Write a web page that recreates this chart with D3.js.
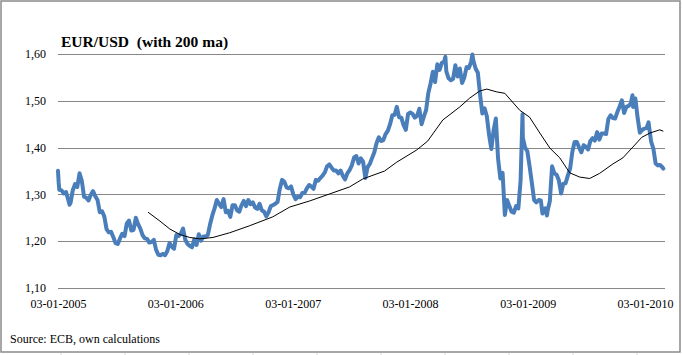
<!DOCTYPE html>
<html>
<head>
<meta charset="utf-8">
<script src="https://cdn.jsdelivr.net/npm/d3@7"></script>
<style>
  html, body { margin: 0; padding: 0; background: #fff; }
  svg { display: block; }
</style>
</head>
<body>
<svg id="chart" width="682" height="355"></svg>
<script>
// ---- DATA ----
const titleText = "EUR/USD  (with 200 ma)";
const sourceText = "Source: ECB, own calculations";

const yTicks = [1.10, 1.20, 1.30, 1.40, 1.50, 1.60];
const xTickDates = ["2005-01-03", "2006-01-03", "2007-01-03", "2008-01-03", "2009-01-03", "2010-01-03"];
const xTickLabels = ["03-01-2005", "03-01-2006", "03-01-2007", "03-01-2008", "03-01-2009", "03-01-2010"];

// EUR/USD rate
const rateDates = [
"2005-01-03","2005-01-05","2005-01-07","2005-01-14","2005-01-21","2005-01-28","2005-02-04","2005-02-08","2005-02-11","2005-02-18",
"2005-02-25","2005-03-04","2005-03-11","2005-03-18","2005-03-25","2005-04-01","2005-04-08","2005-04-15","2005-04-22","2005-04-29",
"2005-05-06","2005-05-13","2005-05-20","2005-05-27","2005-06-03","2005-06-10","2005-06-17","2005-06-24","2005-07-01","2005-07-08",
"2005-07-15","2005-07-22","2005-07-29","2005-08-05","2005-08-12","2005-08-19","2005-08-26","2005-09-02","2005-09-09","2005-09-16",
"2005-09-23","2005-09-30","2005-10-07","2005-10-14","2005-10-21","2005-10-28","2005-11-04","2005-11-11","2005-11-18","2005-11-25",
"2005-12-02","2005-12-09","2005-12-16","2005-12-23","2005-12-30",
"2006-01-06","2006-01-13","2006-01-20","2006-01-27","2006-02-03","2006-02-10","2006-02-17","2006-02-24","2006-03-03","2006-03-10",
"2006-03-17","2006-03-24","2006-03-31","2006-04-07","2006-04-14","2006-04-21","2006-04-28","2006-05-05","2006-05-12","2006-05-19",
"2006-05-26","2006-06-02","2006-06-09","2006-06-16","2006-06-23","2006-06-30","2006-07-07","2006-07-14","2006-07-21","2006-07-28",
"2006-08-04","2006-08-11","2006-08-18","2006-08-25","2006-09-01","2006-09-08","2006-09-15","2006-09-22","2006-09-29","2006-10-06",
"2006-10-13","2006-10-20","2006-10-27","2006-11-03","2006-11-10","2006-11-17","2006-11-24","2006-12-01","2006-12-08","2006-12-15",
"2006-12-22","2006-12-29",
"2007-01-05","2007-01-12","2007-01-19","2007-01-26","2007-02-02","2007-02-09","2007-02-16","2007-02-23","2007-03-02","2007-03-09",
"2007-03-16","2007-03-23","2007-03-30","2007-04-06","2007-04-13","2007-04-20","2007-04-27","2007-05-04","2007-05-11","2007-05-18",
"2007-05-25","2007-06-01","2007-06-08","2007-06-15","2007-06-22","2007-06-29","2007-07-06","2007-07-13","2007-07-20","2007-07-27",
"2007-08-03","2007-08-10","2007-08-17","2007-08-24","2007-08-31","2007-09-07","2007-09-14","2007-09-21","2007-09-28","2007-10-05",
"2007-10-12","2007-10-19","2007-10-26","2007-11-02","2007-11-09","2007-11-16","2007-11-23","2007-11-30","2007-12-07","2007-12-14",
"2007-12-21","2007-12-28",
"2008-01-04","2008-01-11","2008-01-18","2008-01-25","2008-02-01","2008-02-08","2008-02-15","2008-02-22","2008-02-29","2008-03-07",
"2008-03-14","2008-03-21","2008-03-28","2008-04-04","2008-04-11","2008-04-18","2008-04-22","2008-04-25","2008-05-02","2008-05-09",
"2008-05-16","2008-05-23","2008-05-30","2008-06-06","2008-06-13","2008-06-20","2008-06-27","2008-07-04","2008-07-11","2008-07-15",
"2008-07-18","2008-07-25","2008-08-01","2008-08-08","2008-08-15","2008-08-22","2008-08-29","2008-09-05","2008-09-12","2008-09-19",
"2008-09-26","2008-10-03","2008-10-10","2008-10-17","2008-10-24","2008-10-31","2008-11-07","2008-11-14","2008-11-21","2008-11-28",
"2008-12-05","2008-12-12","2008-12-18","2008-12-19","2008-12-26",
"2009-01-02","2009-01-09","2009-01-16","2009-01-23","2009-01-30","2009-02-06","2009-02-13","2009-02-18","2009-02-20","2009-02-27",
"2009-03-04","2009-03-06","2009-03-13","2009-03-20","2009-03-27","2009-04-03","2009-04-10","2009-04-17","2009-04-24","2009-05-01",
"2009-05-08","2009-05-15","2009-05-22","2009-05-29","2009-06-05","2009-06-12","2009-06-19","2009-06-26","2009-07-03","2009-07-10",
"2009-07-17","2009-07-24","2009-07-31","2009-08-07","2009-08-14","2009-08-21","2009-08-28","2009-09-04","2009-09-11","2009-09-18",
"2009-09-25","2009-10-02","2009-10-09","2009-10-16","2009-10-23","2009-10-30","2009-11-06","2009-11-13","2009-11-20","2009-11-25",
"2009-11-27","2009-12-04","2009-12-11","2009-12-18","2009-12-24","2009-12-31",
"2010-01-08","2010-01-14","2010-01-15","2010-01-22","2010-01-29","2010-02-05","2010-02-12","2010-02-19","2010-02-26","2010-03-01"
];
const rateValues = [
1.3505,1.3260,1.3100,1.3085,1.3020,1.3050,1.2880,1.2780,1.2820,1.3090,
1.3220,1.3160,1.3450,1.3290,1.2950,1.2930,1.2870,1.2990,1.3070,1.2960,
1.2880,1.2620,1.2640,1.2530,1.2260,1.2190,1.2200,1.2090,1.1960,1.1940,
1.2060,1.2160,1.2110,1.2380,1.2440,1.2230,1.2240,1.2500,1.2370,1.2270,
1.2130,1.2060,1.2050,1.1970,1.1980,1.2030,1.1820,1.1710,1.1700,1.1730,
1.1700,1.1790,1.1960,1.1880,1.1840,
1.2130,1.2110,1.2160,1.2270,1.2030,1.1940,1.1900,1.1870,1.2040,1.1920,
1.2150,1.2010,1.2100,1.2100,1.2130,1.2360,1.2550,1.2700,1.2880,1.2800,
1.2730,1.2900,1.2620,1.2650,1.2520,1.2770,1.2770,1.2660,1.2630,1.2770,
1.2860,1.2750,1.2880,1.2790,1.2830,1.2720,1.2690,1.2800,1.2660,1.2630,
1.2530,1.2620,1.2750,1.2770,1.2800,1.2840,1.3120,1.3310,1.3270,1.3150,
1.3130,1.3170,
1.3000,1.2900,1.2950,1.2940,1.3030,1.3030,1.3130,1.3200,1.3170,1.3120,
1.3310,1.3290,1.3350,1.3400,1.3470,1.3600,1.3640,1.3570,1.3510,1.3510,
1.3450,1.3510,1.3400,1.3320,1.3450,1.3520,1.3620,1.3790,1.3820,1.3660,
1.3770,1.3700,1.3350,1.3580,1.3650,1.3780,1.3900,1.4100,1.4220,1.4140,
1.4160,1.4290,1.4360,1.4500,1.4690,1.4700,1.4870,1.4650,1.4640,1.4480,
1.4380,1.4720,
1.4750,1.4720,1.4640,1.4680,1.4830,1.4500,1.4660,1.4800,1.5170,1.5370,
1.5620,1.5400,1.5780,1.5660,1.5810,1.5830,1.5940,1.5630,1.5480,1.5440,
1.5470,1.5760,1.5520,1.5690,1.5380,1.5500,1.5720,1.5700,1.5830,1.5990,
1.5860,1.5690,1.5600,1.5130,1.4730,1.4840,1.4670,1.4270,1.3970,1.4370,
1.4620,1.3760,1.3340,1.3460,1.2560,1.2880,1.2750,1.2630,1.2610,1.2750,
1.2700,1.3300,1.4710,1.4210,1.4000,
1.3920,1.3600,1.3250,1.2880,1.2830,1.2880,1.2870,1.2590,1.2680,1.2700,
1.2550,1.2650,1.2860,1.3600,1.3450,1.3420,1.3300,1.3020,1.3230,1.3240,
1.3400,1.3550,1.3910,1.4120,1.4120,1.4000,1.3900,1.4050,1.4020,1.3960,
1.4140,1.4200,1.4150,1.4330,1.4170,1.4300,1.4300,1.4290,1.4610,1.4690,
1.4630,1.4620,1.4760,1.4880,1.5010,1.4740,1.4870,1.4890,1.4950,1.5120,
1.4870,1.5050,1.4640,1.4320,1.4370,1.4406,
1.4420,1.4540,1.4480,1.4130,1.3980,1.3660,1.3620,1.3630,1.3580,1.3550
];

// 200-day moving average
const maDates = [
"2005-10-10","2005-11-16","2005-12-17","2006-01-18","2006-02-17","2006-03-20","2006-04-30","2006-06-21","2006-08-22","2006-11-02",
"2006-12-25","2007-02-25","2007-04-28","2007-06-29","2007-08-09","2007-10-16","2007-11-23","2008-01-24","2008-02-27","2008-04-14",
"2008-06-06","2008-07-07","2008-08-07","2008-08-29","2008-09-29","2008-10-24","2008-12-09","2009-01-09","2009-02-10","2009-03-13",
"2009-04-13","2009-05-14","2009-06-14","2009-07-15","2009-08-15","2009-09-25","2009-10-26","2009-11-26","2009-12-24","2010-01-18",
"2010-02-18","2010-03-01"
];
const maValues = [
1.262,1.243,1.226,1.214,1.208,1.205,1.208,1.218,1.233,1.252,
1.273,1.286,1.301,1.316,1.333,1.350,1.369,1.395,1.414,1.459,
1.487,1.506,1.521,1.525,1.519,1.516,1.480,1.465,1.431,1.399,
1.378,1.346,1.337,1.334,1.345,1.365,1.378,1.401,1.422,1.431,
1.438,1.435
];

// ---- DRAWING ----
const parse = d3.timeParse("%Y-%m-%d");
const rate = rateDates.map((d, i) => ({ date: parse(d), value: rateValues[i] }));
const ma = maDates.map((d, i) => ({ date: parse(d), value: maValues[i] }));

const svg = d3.select("#chart");
const W = 682, H = 355;

const x = d3.scaleTime()
  .domain([parse(xTickDates[0]), parse(xTickDates[xTickDates.length - 1])])
  .range([58, 645]);
const y = d3.scaleLinear().domain([1.10, 1.60]).range([288, 54]);

// faint sheet gridlines beneath the frame
const cellXs = d3.range(61, W, 64);
svg.append("g").selectAll("line").data(cellXs).join("line")
  .attr("x1", d => d).attr("x2", d => d)
  .attr("y1", 353).attr("y2", H)
  .attr("stroke", "#d8d8d8").attr("stroke-width", 1);

// frame
svg.append("rect")
  .attr("x", 1).attr("y", 1).attr("width", 679).attr("height", 351)
  .attr("fill", "#fff").attr("stroke", "#8a8a8a").attr("stroke-width", 1.5);

// horizontal gridlines
svg.append("g").selectAll("line").data(yTicks).join("line")
  .attr("x1", 58).attr("x2", 665)
  .attr("y1", d => Math.round(y(d)) + 0.5).attr("y2", d => Math.round(y(d)) + 0.5)
  .attr("stroke", "#878787").attr("stroke-width", 1);

// y axis labels
const fmt = d => d.toFixed(2).replace(".", ",");
const yAxis = d3.axisLeft(y).tickValues(yTicks).tickFormat(fmt).tickSize(0).tickPadding(0);
const gy = svg.append("g").attr("transform", "translate(46,0)").call(yAxis);
gy.select(".domain").remove();
gy.selectAll("text")
  .attr("font-family", "'Liberation Serif', serif")
  .attr("font-size", 12).attr("fill", "#000").attr("dy", "0.3em");

// x axis labels
const xAxis = d3.axisBottom(x)
  .tickValues(xTickDates.map(parse))
  .tickFormat((d, i) => xTickLabels[i])
  .tickSize(0).tickPadding(0);
const gx = svg.append("g").attr("transform", "translate(0,299)").call(xAxis);
gx.select(".domain").remove();
gx.selectAll("text")
  .attr("font-family", "'Liberation Serif', serif")
  .attr("font-size", 12).attr("fill", "#000").attr("dy", "0.71em");

// rate line
const line = d3.line().x(d => x(d.date)).y(d => y(d.value));
svg.append("path").datum(rate)
  .attr("d", line)
  .attr("fill", "none").attr("stroke", "#4a7ebb").attr("stroke-width", 4)
  .attr("stroke-linejoin", "round").attr("stroke-linecap", "round");

// moving average line
svg.append("path").datum(ma)
  .attr("d", line)
  .attr("fill", "none").attr("stroke", "#000").attr("stroke-width", 1)
  .attr("stroke-linejoin", "round");

// title
svg.append("text")
  .attr("x", 61).attr("y", 47)
  .attr("font-family", "'Liberation Serif', serif")
  .attr("font-weight", "bold").attr("font-size", 15.5)
  .attr("fill", "#000")
  .attr("xml:space", "preserve")
  .style("white-space", "pre")
  .text(titleText);

// source
svg.append("text")
  .attr("x", 10).attr("y", 343)
  .attr("font-family", "'Liberation Serif', serif")
  .attr("font-size", 12).attr("fill", "#000")
  .text(sourceText);
</script>
</body>
</html>
